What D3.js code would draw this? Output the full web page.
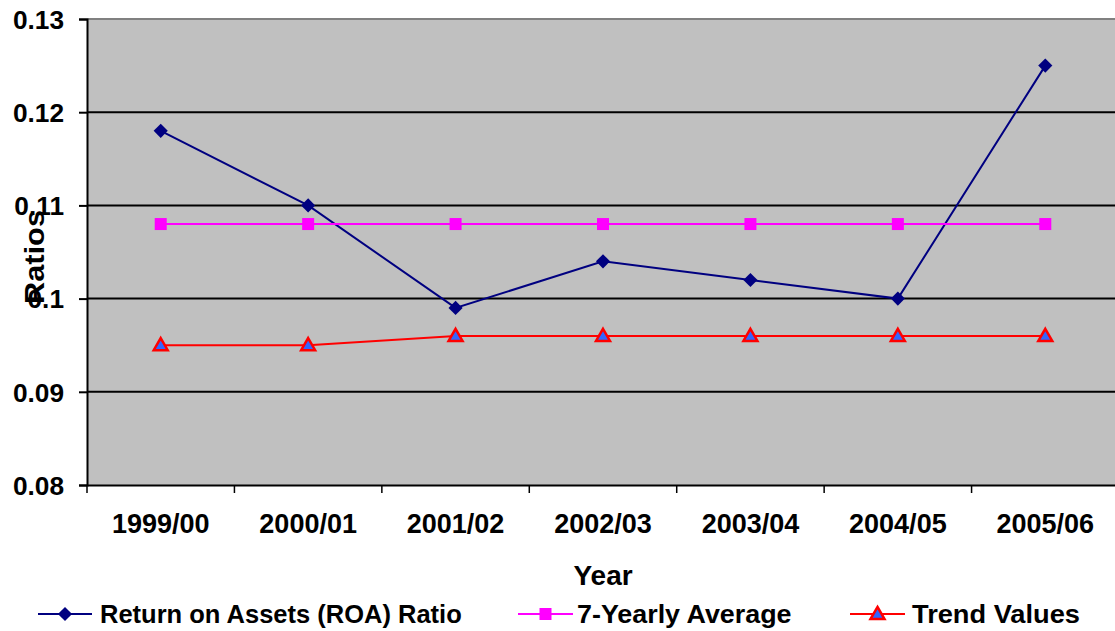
<!DOCTYPE html>
<html><head><meta charset="utf-8">
<script src="https://cdn.jsdelivr.net/npm/d3@7"></script>
<style>body{margin:0;background:#fff}svg{display:block}text{font-family:"Liberation Sans",Arial,sans-serif;font-weight:bold;fill:#000}</style>
</head><body>
<svg id="c" width="1115" height="631"></svg>
<script>
const years = ["1999/00","2000/01","2001/02","2002/03","2003/04","2004/05","2005/06"];
const roa = [0.118,0.110,0.099,0.104,0.102,0.100,0.125];
const avg = [0.108,0.108,0.108,0.108,0.108,0.108,0.108];
const trend = [0.095,0.095,0.096,0.096,0.096,0.096,0.096];
const yTicks = [0.08,0.09,0.1,0.11,0.12,0.13];
const yTickLabels = ["0.08","0.09","0.1","0.11","0.12","0.13"];
const seriesNames = ["Return on Assets (ROA) Ratio","7-Yearly Average","Trend Values"];

const svg = d3.select("#c");
const L=87, R=1119, T=19, B=485;
const x = d3.scaleBand().domain(years).range([L,R]);
const y = d3.scaleLinear().domain([0.08,0.13]).range([B,T]);

function stext(g, tx, ty, str, size, anchor, sx, rot){
  const gg = g.append("g").attr("transform",`translate(${tx},${ty})${rot?` rotate(${rot})`:""} scale(${sx},1)`);
  gg.append("text").attr("font-size",size).attr("text-anchor",anchor).attr("dominant-baseline","central").text(str);
}

svg.append("rect").attr("x",L).attr("y",T).attr("width",R-L).attr("height",B-T).attr("fill","#C0C0C0");
svg.append("line").attr("x1",L).attr("x2",R).attr("y1",T).attr("y2",T).attr("stroke","#808080").attr("stroke-width",2);

// gridlines
svg.append("g").selectAll("line").data(yTicks.filter(v=>v>0.08 && v<0.13)).join("line")
  .attr("x1",L).attr("x2",R).attr("y1",d=>y(d)).attr("y2",d=>y(d)).attr("stroke","#000").attr("stroke-width",2);

// y axis
const ya = svg.append("g").attr("transform",`translate(${L},0)`)
  .call(d3.axisLeft(y).tickValues(yTicks).tickSize(8).tickFormat(""));
ya.selectAll("path,line").attr("stroke","#000").attr("stroke-width",2);
yTicks.forEach((v,i)=>stext(svg,64,y(v)+1,yTickLabels[i],25,"end",1.05));

// x axis
const xa = svg.append("g").attr("transform",`translate(0,${B})`)
  .call(d3.axisBottom(x).tickSize(0).tickFormat(""));
xa.select("path").attr("stroke","#000").attr("stroke-width",2);
const edges = years.map(d=>x(d)).concat([R]);
svg.append("g").selectAll("line").data(edges).join("line")
  .attr("x1",d=>d).attr("x2",d=>d).attr("y1",B).attr("y2",B+8).attr("stroke","#000").attr("stroke-width",1.5);
years.forEach(d=>stext(svg,x(d)+x.bandwidth()/2,524,d,27,"middle",1.0));

stext(svg,603,575,"Year",28,"middle",1.0);
stext(svg,34,257,"Ratios",28,"middle",1.1,-90);

const cx = d=>x(d)+x.bandwidth()/2;
const line = vals => d3.line().x((v,i)=>cx(years[i])).y(v=>y(v))(vals);

function diamond(g,px,py){ g.append("path").attr("d",d3.symbol().type(d3.symbolSquare).size(100)()).attr("transform",`translate(${px},${py}) rotate(45)`).attr("fill","#000080"); }
function square(g,px,py){ g.append("rect").attr("x",px-6).attr("y",py-6).attr("width",12).attr("height",12).attr("fill","#FF00FF"); }
function tri(g,px,py){ g.append("path").attr("d",d3.symbol().type(d3.symbolTriangle).size(85)()).attr("transform",`translate(${px},${py+1})`).attr("fill","#3366FF").attr("stroke","#FF0000").attr("stroke-width",2.5); }

const series = [
  {vals:roa,color:"#000080",w:2,mk:diamond},
  {vals:avg,color:"#FF00FF",w:2,mk:square},
  {vals:trend,color:"#FF0000",w:2,mk:tri}
];
series.forEach(s=>{
  svg.append("path").attr("d",line(s.vals)).attr("fill","none").attr("stroke",s.color).attr("stroke-width",s.w);
  const g = svg.append("g");
  s.vals.forEach((v,i)=>s.mk(g,cx(years[i]),y(v)));
});

// legend
const legPos = [{x1:38,x2:92,tx:100,sx:1.02},{x1:518,x2:573,tx:577,sx:1.075},{x1:850,x2:905,tx:912,sx:1.09}];
const ly = 614;
series.forEach((s,i)=>{
  const p = legPos[i];
  svg.append("line").attr("x1",p.x1).attr("x2",p.x2).attr("y1",ly).attr("y2",ly).attr("stroke",s.color).attr("stroke-width",2);
  s.mk(svg,(p.x1+p.x2)/2,ly);
  stext(svg,p.tx,ly,seriesNames[i],25,"start",p.sx);
});
</script>
</body></html>
